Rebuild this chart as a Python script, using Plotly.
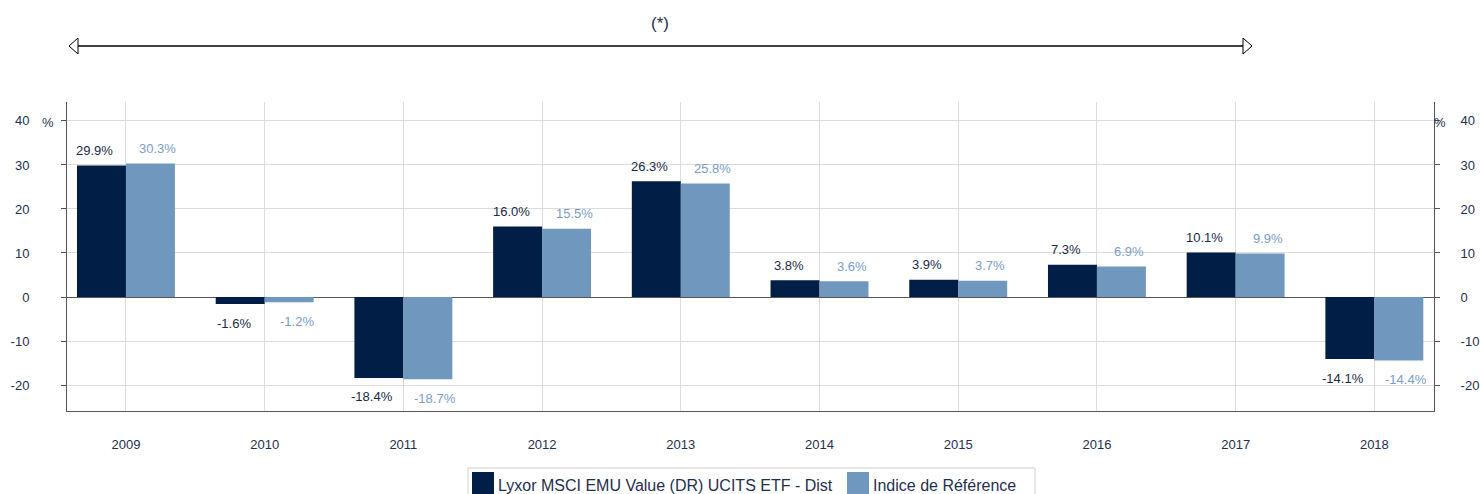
import plotly.graph_objects as go

years = ["2009", "2010", "2011", "2012", "2013", "2014", "2015", "2016", "2017", "2018"]
fund = [29.9, -1.6, -18.4, 16.0, 26.3, 3.8, 3.9, 7.3, 10.1, -14.1]
index = [30.3, -1.2, -18.7, 15.5, 25.8, 3.6, 3.7, 6.9, 9.9, -14.4]
fund_name = "Lyxor MSCI EMU Value (DR) UCITS ETF - Dist"
index_name = "Indice de Référence"
y_ticks = [40, 30, 20, 10, 0, -10, -20]

DARK = "#001e46"
LIGHT = "#7098bf"
TXT = "#1f2f50"
FONT = "Liberation Sans, Arial, sans-serif"

fig = go.Figure()
fig.add_trace(go.Bar(x=years, y=fund, name=fund_name,
                     marker=dict(color=DARK, line=dict(width=0))))
fig.add_trace(go.Bar(x=years, y=index, name=index_name,
                     marker=dict(color=LIGHT, line=dict(width=0))))
# invisible trace to activate right axis
fig.add_trace(go.Scatter(x=years, y=fund, yaxis="y2", mode="markers",
                         marker=dict(opacity=0), showlegend=False, hoverinfo="skip"))

# value labels, anchored at each bar's category index and value, spread slightly apart like the reference
for series, col, xs in [(fund, "#1b2a47", -31), (index, "#7b9cc6", 32)]:
    for i, v in enumerate(series):
        fig.add_annotation(x=i, y=v, xref="x", yref="y", text=f"{v:.1f}%",
                           showarrow=False, xanchor="center", yanchor="middle",
                           xshift=xs, yshift=15 if v >= 0 else -19,
                           font=dict(size=13, color=col, family=FONT))

axis_common = dict(
    range=[-25.9, 44.3], tickvals=y_ticks, ticktext=[str(t) for t in y_ticks],
    ticks="outside", ticklen=5, tickcolor="#555",
    tickfont=dict(size=13, color=TXT, family=FONT), showline=True, linecolor="#555", linewidth=1,
    automargin=False,
)
fig.update_layout(
    width=1480, height=494,
    margin=dict(l=67, r=46, t=102, b=83, autoexpand=False),
    paper_bgcolor="white", plot_bgcolor="white",
    barmode="group", bargap=0.294, bargroupgap=0,
    font=dict(family=FONT, color=TXT),
    xaxis=dict(type="category", range=[-0.425, 9.43], showgrid=True, gridcolor="#dcdcdc",
               gridwidth=1, showline=True, linecolor="#555", linewidth=1, ticks="",
               automargin=False, tickfont=dict(size=13, color=TXT, family=FONT),
               ticklabelstandoff=21),
    yaxis=dict(**axis_common, showgrid=True, gridcolor="#dcdcdc", gridwidth=1,
               zeroline=True, zerolinecolor="#555", zerolinewidth=1, ticklabelstandoff=29),
    yaxis2=dict(**axis_common, overlaying="y", side="right", showgrid=False,
                zeroline=False, ticklabelstandoff=18),
    showlegend=False,
)

def px_x(p):
    return (p - 67) / 1367.0

def px_y(p):
    return (411 - p) / 309.0

# double arrow at the top
ay = px_y(46)
x0, x1 = px_x(69), px_x(1252)
fig.add_shape(type="line", xref="paper", yref="paper", x0=x0, x1=x1, y0=ay, y1=ay,
              line=dict(color="black", width=1.6))
dx, dy = 9 / 1367.0, 8 / 309.0
fig.add_shape(type="path", xref="paper", yref="paper",
              path=f"M {x0} {ay} L {x0+dx} {ay+dy} L {x0+dx} {ay-dy} Z",
              line=dict(color="black", width=1), fillcolor="white")
fig.add_shape(type="path", xref="paper", yref="paper",
              path=f"M {x1} {ay} L {x1-dx} {ay+dy} L {x1-dx} {ay-dy} Z",
              line=dict(color="black", width=1), fillcolor="white")
fig.add_annotation(text="(*)", xref="paper", yref="paper", x=px_x(660), y=px_y(24),
                   xanchor="center", yanchor="middle", showarrow=False,
                   font=dict(size=17, color=TXT, family=FONT))
fig.add_annotation(text="%", xref="paper", yref="paper", x=px_x(48), y=px_y(123),
                   xanchor="center", yanchor="middle", showarrow=False,
                   font=dict(size=13, color=TXT, family=FONT))
fig.add_annotation(text="%", xref="paper", yref="paper", x=px_x(1440), y=px_y(123),
                   xanchor="center", yanchor="middle", showarrow=False,
                   font=dict(size=13, color=TXT, family=FONT))

# legend box drawn to match the reference's large swatches
fig.add_shape(type="rect", xref="paper", yref="paper",
              x0=px_x(468), x1=px_x(1035), y0=px_y(468), y1=px_y(520),
              line=dict(color="#d0d0d0", width=1), fillcolor="rgba(0,0,0,0)")
legend_items = [(fund_name, DARK, 472, 496), (index_name, LIGHT, 847, 871)]
for name, col, sx, tx in legend_items:
    fig.add_shape(type="rect", xref="paper", yref="paper",
                  x0=px_x(sx), x1=px_x(sx + 22), y0=px_y(472), y1=px_y(495),
                  line=dict(width=0), fillcolor=col)
    fig.add_annotation(text=name, xref="paper", yref="paper", x=px_x(tx), y=px_y(485),
                       xanchor="left", yanchor="middle", showarrow=False,
                       font=dict(size=16, color=TXT, family=FONT))

fig.write_html("out.html", config={"displayModeBar": False},
               post_script="document.body.style.margin='0px';document.body.style.overflow='hidden';")
